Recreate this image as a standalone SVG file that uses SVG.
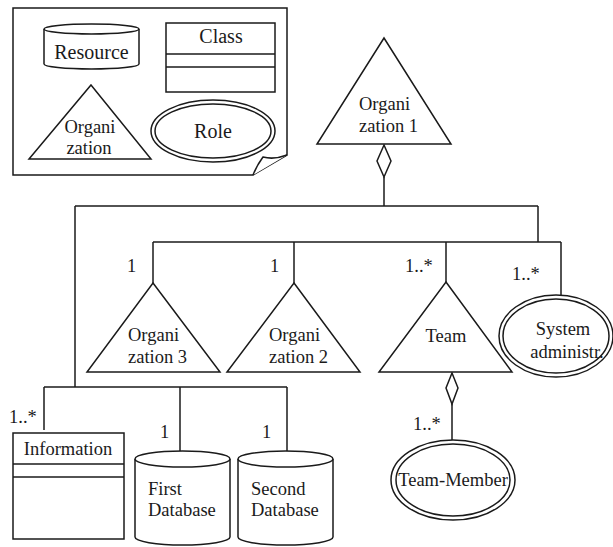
<svg xmlns="http://www.w3.org/2000/svg" width="613" height="547" viewBox="0 0 613 547" font-family="'Liberation Serif', 'DejaVu Serif', serif">
  <style>
    .s { fill: #fff; stroke: #1a1a1a; stroke-width: 1.5; }
    .n { fill: none; stroke: #1a1a1a; stroke-width: 1.5; }
    text { font-family: 'Liberation Serif', 'Times New Roman', serif; font-size: 18.5px; fill: #1a1a1a; }
    .m { text-anchor: middle; }
  </style>
  <rect width="613" height="547" fill="#fff"/>

  <!-- legend sheet with curled corner -->
  <g id="legend">
    <path class="s" d="M13,8 L287,8 L287,155 L253,175 L13,175 Z"/>
    <path class="s" d="M253,175 Q257,165 263,157 Q274,160 287,155"/>
    <g id="legend-resource">
      <path class="s" d="M44,29 L44,64 A47.5,5 0 0 0 139,64 L139,29"/>
      <ellipse class="s" cx="91.5" cy="29" rx="47.5" ry="5"/>
      <text class="m" x="91.5" y="59" style="font-size:20px">Resource</text>
    </g>
    <g id="legend-class">
      <rect class="s" x="166" y="23" width="109" height="69"/>
      <line class="n" x1="166" y1="54" x2="275" y2="54"/>
      <line class="n" x1="166" y1="67" x2="275" y2="67"/>
      <text class="m" x="221" y="43" style="font-size:20px">Class</text>
    </g>
    <g id="legend-organization">
      <polygon class="s" points="91,85 151,159 29,159"/>
      <text class="m" x="90" y="133">Organi</text>
      <text class="m" x="89" y="154">zation</text>
    </g>
    <g id="legend-role">
      <ellipse class="s" cx="213" cy="131" rx="62" ry="31"/>
      <ellipse class="n" cx="213" cy="131" rx="58" ry="27"/>
      <text class="m" x="213" y="138" style="font-size:20px">Role</text>
    </g>
  </g>

  <!-- connectors -->
  <g id="connectors">
    <polygon class="s" points="384,145 391,161 384,177 377,161"/>
    <polyline class="n" points="384,177 384,206"/>
    <polyline class="n" points="75,206 538,206"/>
    <polyline class="n" points="538,206 538,242"/>
    <polyline class="n" points="153,242 561,242"/>
    <polyline class="n" points="153,242 153,283"/>
    <polyline class="n" points="294,242 294,283"/>
    <polyline class="n" points="446,242 446,282"/>
    <polyline class="n" points="561,242 561,295"/>
    <polyline class="n" points="75,206 75,387"/>
    <polyline class="n" points="44,387 287,387"/>
    <polyline class="n" points="44,387 44,430"/>
    <polyline class="n" points="180,387 180,451"/>
    <polyline class="n" points="287,387 287,451"/>
    <polygon class="s" points="452,373 458,388 452,404 446,388"/>
    <polyline class="n" points="452,404 452,440"/>
    <text x="127" y="272">1</text>
    <text x="270" y="272">1</text>
    <text x="405" y="272">1..*</text>
    <text x="512" y="280">1..*</text>
    <text x="9" y="423">1..*</text>
    <text x="160" y="438">1</text>
    <text x="262" y="438">1</text>
    <text x="413" y="430">1..*</text>
  </g>

  <g id="organization1">
    <polygon class="s" points="384,38 451,144 317,144"/>
    <text x="359" y="110">Organi</text>
    <text x="359" y="132">zation 1</text>
  </g>

  <g id="organization3">
    <polygon class="s" points="153,283 220,372 87,372"/>
    <text x="128" y="341">Organi</text>
    <text x="128" y="363">zation 3</text>
  </g>

  <g id="organization2">
    <polygon class="s" points="294,283 360,372 227,372"/>
    <text x="269" y="341">Organi</text>
    <text x="269" y="363">zation 2</text>
  </g>

  <g id="team">
    <polygon class="s" points="446,282 512,372 379,372"/>
    <text class="m" x="446" y="342">Team</text>
  </g>

  <g id="system-administrator">
    <ellipse class="s" cx="556" cy="336" rx="57" ry="41"/>
    <ellipse class="n" cx="556" cy="336" rx="53" ry="37"/>
    <text class="m" x="563" y="335">System</text>
    <text class="m" x="567" y="358">administr.</text>
  </g>

  <g id="team-member">
    <ellipse class="s" cx="453" cy="480" rx="62" ry="40"/>
    <ellipse class="n" cx="453" cy="480" rx="57" ry="36"/>
    <text class="m" x="453" y="486">Team-Member</text>
  </g>

  <g id="information">
    <rect class="s" x="13" y="433" width="111" height="106"/>
    <line class="n" x1="13" y1="464" x2="124" y2="464"/>
    <line class="n" x1="13" y1="477" x2="124" y2="477"/>
    <text class="m" x="68" y="455">Information</text>
  </g>

  <g id="first-database">
    <path class="s" d="M135,459 L135,537 A47.5,8 0 0 0 230,537 L230,459"/>
    <ellipse class="s" cx="182.5" cy="459" rx="47.5" ry="8"/>
    <text x="148" y="495">First</text>
    <text x="148" y="516">Database</text>
  </g>

  <g id="second-database">
    <path class="s" d="M238,459 L238,537 A47.5,8 0 0 0 333,537 L333,459"/>
    <ellipse class="s" cx="285.5" cy="459" rx="47.5" ry="8"/>
    <text x="251" y="495">Second</text>
    <text x="251" y="516">Database</text>
  </g>
</svg>
